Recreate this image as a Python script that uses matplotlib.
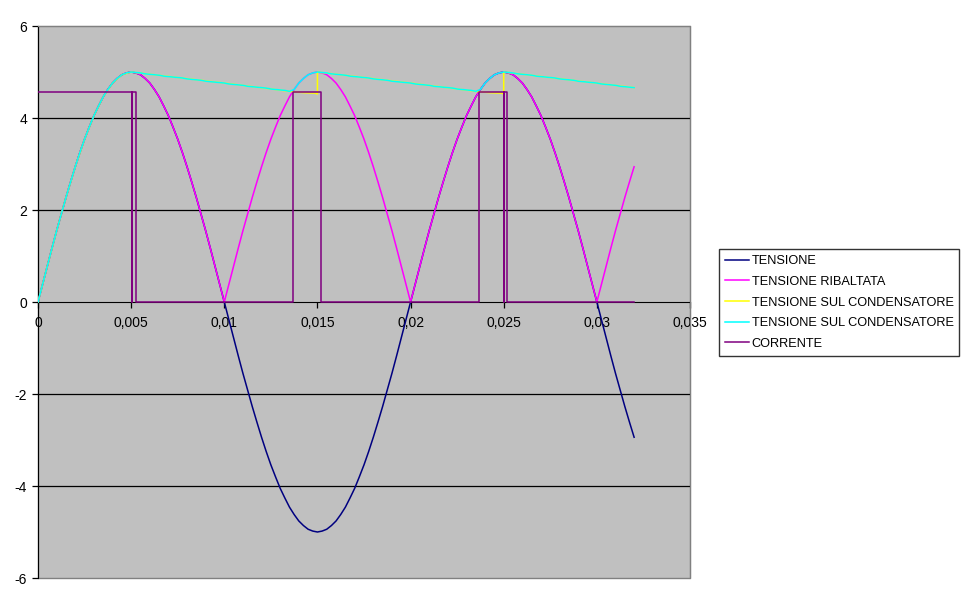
import numpy as np
import matplotlib
matplotlib.use("Agg")
import matplotlib.pyplot as plt
from matplotlib.ticker import FixedLocator, FixedFormatter

plt.rcParams['font.family'] = ['Liberation Sans', 'DejaVu Sans']

# tempo (s): 129 campioni da 0 a 0,032 (passo 0,00025)
t = np.linspace(0, 0.032, 129)

tensione = [0, 0.39, 0.78, 1.17, 1.55, 1.91, 2.27, 2.61, 2.94, 3.25, 3.54, 3.80, 4.05, 4.26, 4.46, 4.62, 4.76, 4.86, 4.94, 4.98, 5.00,
            4.98, 4.94, 4.86, 4.76, 4.62, 4.46, 4.26, 4.05, 3.80, 3.54, 3.25, 2.94, 2.61, 2.27, 1.91, 1.55, 1.17, 0.78, 0.39, 0,
            -0.39, -0.78, -1.17, -1.55, -1.91, -2.27, -2.61, -2.94, -3.25, -3.54, -3.80, -4.05, -4.26, -4.46, -4.62, -4.76, -4.86, -4.94, -4.98, -5.00,
            -4.98, -4.94, -4.86, -4.76, -4.62, -4.46, -4.26, -4.05, -3.80, -3.54, -3.25, -2.94, -2.61, -2.27, -1.91, -1.55, -1.17, -0.78, -0.39, 0,
            0.39, 0.78, 1.17, 1.55, 1.91, 2.27, 2.61, 2.94, 3.25, 3.54, 3.80, 4.05, 4.26, 4.46, 4.62, 4.76, 4.86, 4.94, 4.98, 5.00,
            4.98, 4.94, 4.86, 4.76, 4.62, 4.46, 4.26, 4.05, 3.80, 3.54, 3.25, 2.94, 2.61, 2.27, 1.91, 1.55, 1.17, 0.78, 0.39, 0,
            -0.39, -0.78, -1.17, -1.55, -1.91, -2.27, -2.61, -2.94]

ribaltata = [0, 0.39, 0.78, 1.17, 1.55, 1.91, 2.27, 2.61, 2.94, 3.25, 3.54, 3.80, 4.05, 4.26, 4.46, 4.62, 4.76, 4.86, 4.94, 4.98, 5.00,
             4.98, 4.94, 4.86, 4.76, 4.62, 4.46, 4.26, 4.05, 3.80, 3.54, 3.25, 2.94, 2.61, 2.27, 1.91, 1.55, 1.17, 0.78, 0.39, 0,
             0.39, 0.78, 1.17, 1.55, 1.91, 2.27, 2.61, 2.94, 3.25, 3.54, 3.80, 4.05, 4.26, 4.46, 4.62, 4.76, 4.86, 4.94, 4.98, 5.00,
             4.98, 4.94, 4.86, 4.76, 4.62, 4.46, 4.26, 4.05, 3.80, 3.54, 3.25, 2.94, 2.61, 2.27, 1.91, 1.55, 1.17, 0.78, 0.39, 0,
             0.39, 0.78, 1.17, 1.55, 1.91, 2.27, 2.61, 2.94, 3.25, 3.54, 3.80, 4.05, 4.26, 4.46, 4.62, 4.76, 4.86, 4.94, 4.98, 5.00,
             4.98, 4.94, 4.86, 4.76, 4.62, 4.46, 4.26, 4.05, 3.80, 3.54, 3.25, 2.94, 2.61, 2.27, 1.91, 1.55, 1.17, 0.78, 0.39, 0,
             0.39, 0.78, 1.17, 1.55, 1.91, 2.27, 2.61, 2.94]

condensatore = [0, 0.39, 0.78, 1.17, 1.55, 1.91, 2.27, 2.61, 2.94, 3.25, 3.54, 3.80, 4.05, 4.26, 4.46, 4.62, 4.76, 4.86, 4.94, 4.98, 5.00,
                4.99, 4.98, 4.96, 4.95, 4.94, 4.93, 4.91, 4.90, 4.89, 4.88, 4.87, 4.85, 4.84, 4.83, 4.82, 4.80, 4.79, 4.78, 4.77, 4.76,
                4.74, 4.73, 4.72, 4.71, 4.69, 4.68, 4.67, 4.66, 4.65, 4.63, 4.62, 4.61, 4.60, 4.58, 4.62, 4.76, 4.86, 4.94, 4.98, 5.00,
                4.99, 4.98, 4.96, 4.95, 4.94, 4.93, 4.91, 4.90, 4.89, 4.88, 4.87, 4.85, 4.84, 4.83, 4.82, 4.80, 4.79, 4.78, 4.77, 4.76,
                4.74, 4.73, 4.72, 4.71, 4.69, 4.68, 4.67, 4.66, 4.65, 4.63, 4.62, 4.61, 4.60, 4.58, 4.62, 4.76, 4.86, 4.94, 4.98, 5.00,
                4.99, 4.98, 4.96, 4.95, 4.94, 4.93, 4.91, 4.90, 4.89, 4.88, 4.87, 4.85, 4.84, 4.83, 4.82, 4.80, 4.79, 4.78, 4.77, 4.76,
                4.74, 4.73, 4.72, 4.71, 4.69, 4.68, 4.67, 4.66]

# prima serie "tensione sul condensatore" (gialla)
t_giallo = [0, 0.0005, 0.001, 0.0015, 0.002, 0.0025, 0.003, 0.0035, 0.004, 0.0045, 0.005,
            0.01, 0.0137, 0.0143, 0.0149, 0.015,
            0.015, 0.02, 0.0237, 0.0243, 0.0249, 0.025, 0.025, 0.032]
v_giallo = [0, 0.78, 1.55, 2.27, 2.94, 3.54, 4.05, 4.46, 4.76, 4.94, 5.00,
            4.76, 4.57, 4.55, 4.54, 4.52,
            5.00, 4.76, 4.57, 4.55, 4.54, 4.52, 5.00, 4.66]

t_corr = [0, 0.00503, 0.00503, 0.00503, 0.00524, 0.00524, 0.0137, 0.0137,
          0.0152, 0.0152, 0.0237, 0.0237, 0.0250, 0.0250, 0.0250, 0.0252, 0.0252, 0.032]
corrente = [4.57, 4.57, 0, 4.57, 4.57, 0, 0, 4.57,
            4.57, 0, 0, 4.57, 4.57, 0, 4.57, 4.57, 0, 0]

xticks = [0, 0.005, 0.01, 0.015, 0.02, 0.025, 0.03, 0.035]
xlabels = ['0', '0,005', '0,01', '0,015', '0,02', '0,025', '0,03', '0,035']
yticks = [-6, -4, -2, 0, 2, 4, 6]

fig = plt.figure(figsize=(9.7, 6.04), dpi=100)
ax = fig.add_axes([38/970, 26/604, 652/970, 552/604])
ax.set_facecolor('#C0C0C0')
ax.patch.set_edgecolor('#808080')
ax.patch.set_linewidth(1)

for y in [-4, -2, 2, 4]:
    ax.axhline(y, color='black', lw=0.9, zorder=1)

ax.plot(t, tensione, color='#000080', lw=1.1, label='TENSIONE', zorder=3)
ax.plot(t, ribaltata, color='#FF00FF', lw=1.1, label='TENSIONE RIBALTATA', zorder=4)
ax.plot(t_giallo, v_giallo, color='#FFFF00', lw=1.1, label='TENSIONE SUL CONDENSATORE', zorder=5)
ax.plot(t, condensatore, color='#00FFFF', lw=1.1, label='TENSIONE SUL CONDENSATORE', zorder=6)
ax.plot(t_corr, corrente, color='#800080', lw=1.1, label='CORRENTE', zorder=7)

ax.set_xlim(0, 0.035)
ax.set_ylim(-6, 6)

for s in ['top', 'right']:
    ax.spines[s].set_color('#808080')
ax.spines['left'].set_color('black')
ax.spines['bottom'].set_position(('data', 0))
ax.spines['bottom'].set_color('black')
ax.spines['bottom'].set_zorder(2)

ax.xaxis.set_major_locator(FixedLocator(xticks))
ax.xaxis.set_major_formatter(FixedFormatter(xlabels))
ax.set_yticks(yticks)
ax.set_yticklabels([str(v) for v in yticks])
ax.tick_params(axis='x', direction='out', length=4, width=0.9, pad=6, labelsize=10)
ax.tick_params(axis='y', direction='out', length=4, width=0.9, pad=4, labelsize=10)

leg = fig.legend(loc='center left', bbox_to_anchor=(719/970, 1 - 302.5/604),
                 fontsize=9.2, frameon=True, fancybox=False, handlelength=1.9,
                 handletextpad=0.2, borderpad=0.45, labelspacing=0.68,
                 borderaxespad=0)
leg.get_frame().set_edgecolor('black')
leg.get_frame().set_linewidth(1)

fig.savefig('out.png', dpi=100, facecolor='white')
